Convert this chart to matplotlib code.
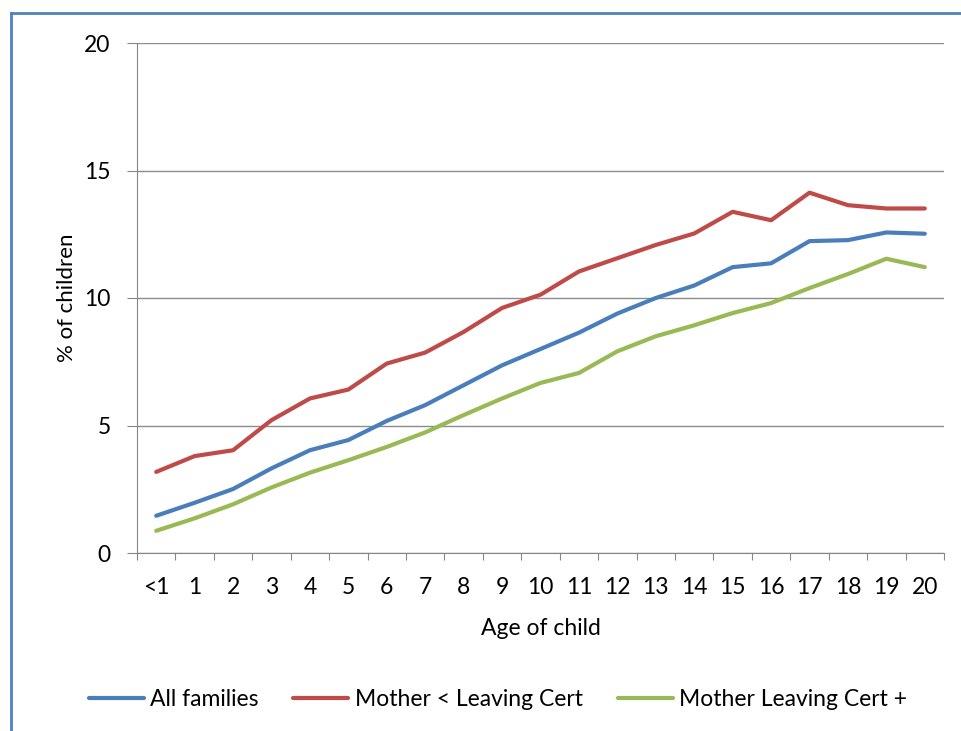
import matplotlib
matplotlib.use("Agg")
import matplotlib.pyplot as plt
from matplotlib.lines import Line2D

ages = ["<1"] + [str(i) for i in range(1, 21)]
all_families = [1.46, 1.97, 2.51, 3.32, 4.03, 4.43, 5.18, 5.80, 6.58, 7.36, 8.0,
                8.64, 9.39, 10.0, 10.49, 11.21, 11.36, 12.23, 12.27, 12.57, 12.52]
mother_below_lc = [3.18, 3.80, 4.03, 5.21, 6.06, 6.41, 7.43, 7.86, 8.67, 9.61, 10.13,
                   11.04, 11.56, 12.08, 12.53, 13.38, 13.05, 14.13, 13.64, 13.51, 13.51]
mother_lc_plus = [0.87, 1.36, 1.91, 2.57, 3.15, 3.64, 4.16, 4.73, 5.41, 6.06, 6.67,
                  7.06, 7.91, 8.50, 8.93, 9.41, 9.80, 10.39, 10.94, 11.54, 11.21]
y_ticks = [0, 5, 10, 15, 20]

plt.rcParams["font.family"] = ["Lato", "DejaVu Sans"]
W, H = 961, 731
fig = plt.figure(figsize=(W / 100, H / 100), dpi=100)
ax = fig.add_axes([137 / W, 1 - 553 / H, 807 / W, 510 / H])

x = range(len(ages))
series = [("All families", all_families, "#4A7EBB"),
          ("Mother < Leaving Cert", mother_below_lc, "#BE4B48"),
          ("Mother Leaving Cert +", mother_lc_plus, "#98B954")]
for label, vals, color in series:
    ax.plot(x, vals, color=color, lw=3, label=label, solid_capstyle="round", zorder=3)

ax.set_xlim(-0.5, len(ages) - 0.5)
ax.set_ylim(0, 20)
ax.set_yticks(y_ticks)
ax.set_xticks([i - 0.5 for i in range(len(ages) + 1)], minor=False)
ax.set_xticklabels([])
ax.set_xticks(list(x), minor=True)
ax.set_xticklabels(ages, minor=True)
ax.tick_params(axis="x", which="major", length=5, color="#868686", direction="out")
ax.tick_params(axis="x", which="minor", length=0, pad=17, labelsize=16.5)
ax.tick_params(axis="y", length=7, color="#868686", pad=12, labelsize=16.5)
ax.grid(axis="y", color="#8C8C8C", lw=1)
ax.set_axisbelow(True)
for side in ["top", "right"]:
    ax.spines[side].set_visible(False)
for side in ["left", "bottom"]:
    ax.spines[side].set_color("#868686")

ax.set_xlabel("Age of child", fontsize=16.5, labelpad=15)
ax.set_ylabel("% of children", fontsize=16, labelpad=5)

fig.legend(loc="center", bbox_to_anchor=(498 / W, 1 - 700 / H), ncol=3, frameon=False,
           fontsize=16.5, handlelength=2.4, handletextpad=0.3, columnspacing=1.5)

# blue outer frame (only top and left edges visible in the crop)
fig.add_artist(Line2D([11 / W, 1], [1 - 13 / H, 1 - 13 / H], color="#4F81BD", lw=2,
                      transform=fig.transFigure))
fig.add_artist(Line2D([11 / W, 11 / W], [0, 1 - 13 / H], color="#4F81BD", lw=2,
                      transform=fig.transFigure))

fig.savefig("out.png", dpi=100)
